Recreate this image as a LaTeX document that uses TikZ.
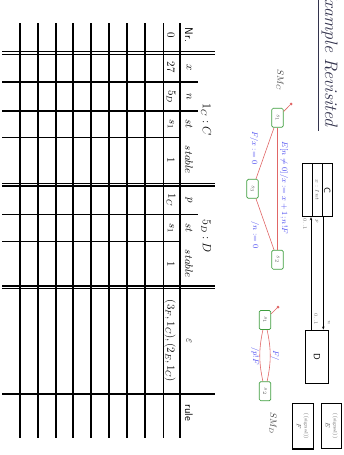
\documentclass[tikz,border=0pt]{standalone}
\usetikzlibrary{arrows.meta}
\definecolor{edgered}{HTML}{E06666}
\definecolor{lblblue}{HTML}{4A4AF0}
\definecolor{stgreen}{HTML}{3E9E3E}
\definecolor{titlecol}{HTML}{33334D}
\begin{document}
\begin{tikzpicture}[x=1pt,y=-1pt,
  rt/.style={rotate=-90,inner sep=0pt},
  cell/.style={rt,font=\fontsize{11}{13}\selectfont},
  thickrule/.style={line width=1.6pt},
  thinrule/.style={line width=0.8pt},
  dblrule/.style={line width=1.1pt},
  stbox/.style={rotate=-90,draw=stgreen,line width=0.7pt,rounded corners=1.5pt,fill=white,minimum width=19pt,minimum height=11.6pt,inner sep=0pt,font=\fontsize{6}{7}\selectfont,text=black!60},
  trans/.style={draw=edgered,line width=0.6pt},
  lbl/.style={rt,text=lblblue,font=\fontsize{8}{9}\selectfont},
  initdot/.style={circle,fill=edgered,minimum size=3pt,inner sep=0pt},
  clsbox/.style={rotate=-90,draw,line width=1pt,inner sep=0pt},
  mult/.style={rt,text=black!60,font=\fontsize{5}{6}\selectfont},
  sigbox/.style={rotate=-90,draw,line width=1.3pt,inner sep=0pt,align=center,font=\fontsize{4.5}{8}\selectfont,text=black!70},
]
\useasboundingbox (0,0) rectangle (343,455);

% ---------- title ----------
\node[rt,anchor=base east,text=titlecol,font=\fontsize{18}{20}\selectfont\itshape] (title) at (325,127) {Example Revisited};
\draw[titlecol,line width=0.8pt] (318,0) -- (318,131);

% ---------- table ----------
\foreach \x in {20,38,56,73,91,109,127,145,180}
  \draw[thickrule] (\x,23) -- (\x,438);
\draw[thinrule] (163,23) -- (163,438);
\foreach \y in {51.7,54.4,183.3,186,286,288.7}
  \draw[dblrule] (2,\y) -- (215,\y);
\draw[thickrule] (2,393.7) -- (215,393.7);
\foreach \y in {81.7,111,214.3}
  \draw[thickrule] (2,\y) -- (198,\y);
\foreach \y in {137.7,241}
  \draw[thinrule] (2,\y) -- (180,\y);

% header row
\node[cell] (hnr) at (189,35) {\sffamily Nr.};
\node[cell] (hx) at (189,68) {$x$};
\node[cell] (hn) at (189,97) {$n$};
\node[cell] (hst1) at (189,124) {$st$};
\node[cell] (hstab1) at (189,160) {$stable$};
\node[cell] (hp) at (189,200) {$p$};
\node[cell] (hst2) at (189,228) {$st$};
\node[cell] (hstab2) at (189,264) {$stable$};
\node[cell] (heps) at (189,341) {$\varepsilon$};
\node[cell] (hrule) at (189,413) {\sffamily rule};

% data row
\node[cell] (d0) at (171,35) {$0$};
\node[cell] (dx) at (171,67) {$27$};
\node[cell] (dn) at (171,97) {$5_D$};
\node[cell] (dst1) at (171,124) {$s_1$};
\node[cell] (dstab1) at (171,160) {$1$};
\node[cell] (dp) at (171,200) {$1_C$};
\node[cell] (dst2) at (171,228) {$s_1$};
\node[cell] (dstab2) at (171,264) {$1$};
\node[cell] (deps) at (170,341) {$(3_F,1_C),(2_E,1_C)$};

% group labels
\node[cell,font=\fontsize{12}{14}\selectfont] (g1) at (206,120) {$1_C : C$};
\node[cell,font=\fontsize{12}{14}\selectfont] (g2) at (206,236) {$5_D : D$};

% ---------- SM_C ----------
\node[rt,font=\fontsize{9}{10}\selectfont,text=black!75] (smc) at (280,80) {$SM_C$};
\node[stbox] (s1C) at (277.5,117.8) {$s_1$};
\node[stbox] (s3C) at (252.5,188.8) {$s_3$};
\node[stbox] (s2C) at (277.5,259.7) {$s_2$};
\node[initdot] (i1) at (291,104) {};
\draw[trans] (i1) -- (s1C);
\draw[trans] (s1C) -- (s2C);
\draw[trans] (s1C) -- (s3C);
\draw[trans] (s3C) -- (s2C);
\node[lbl] (l1) at (284,188) {$E[n\neq 0]/x:=x+1;n!F$};
\node[lbl] (l2) at (254,148) {$F/x:=0$};
\node[lbl] (l3) at (255,235) {$/n:=0$};

% ---------- classes ----------
\node[clsbox,minimum width=53.4pt,minimum height=30pt] (C) at (317.3,190) {};
\draw[line width=0.8pt] (312.3,163.3) -- (312.3,216.7);
\draw[line width=0.8pt] (322.3,163.3) -- (322.3,216.7);
\node[rt,font=\fontsize{9}{10}\selectfont\sffamily] (Cname) at (327.3,190) {C};
\node[rt,font=\fontsize{5.5}{6}\selectfont,text=black!70] (Cattr) at (317.3,190) {$x : Int$};
\node[clsbox,minimum width=53.3pt,minimum height=22.6pt] (D) at (317,356.7) {\fontsize{9}{10}\selectfont\sffamily D};
\coordinate (L1) at (311,0);
\coordinate (L2) at (323.3,0);
\draw[line width=0.6pt,{Stealth[length=3pt,width=2.4pt]}-] (C.east -| L1) -- (D.west -| L1);
\draw[line width=0.6pt,-{Stealth[length=3pt,width=2.4pt]}] (C.east -| L2) -- (D.west -| L2);
\node[mult] (m1) at (316.7,221) {$p$};
\node[mult] (m2) at (305,224) {$0..1$};
\node[mult] (m3) at (316,319) {$0..1$};
\node[mult] (m4) at (329,323) {$n$};

% ---------- SM_D ----------
\node[rt,font=\fontsize{9}{10}\selectfont,text=black!75] (smd) at (273,423) {$SM_D$};
\node[stbox] (s1D) at (265,320) {$s_1$};
\node[stbox] (s2D) at (265,391.2) {$s_2$};
\node[initdot] (i2) at (278,307) {};
\draw[trans] (i2) -- (s1D);
\draw[trans] (s1D) to[bend left=12] (s2D);
\draw[trans] (s1D) to[bend right=12] (s2D);
\node[lbl] (l4) at (275,356) {$F/$};
\node[lbl] (l5) at (255,356) {$/p!F$};

% ---------- signals ----------
\node[sigbox,minimum width=45.7pt,minimum height=21pt] (F) at (302.8,426.2) {$\langle\langle$signal$\rangle\rangle$\\{\fontsize{6}{7}\selectfont$F$}};
\node[sigbox,minimum width=45pt,minimum height=20pt] (E) at (331.7,425.8) {$\langle\langle$signal$\rangle\rangle$\\{\fontsize{6}{7}\selectfont$E$}};
\end{tikzpicture}
\end{document}
